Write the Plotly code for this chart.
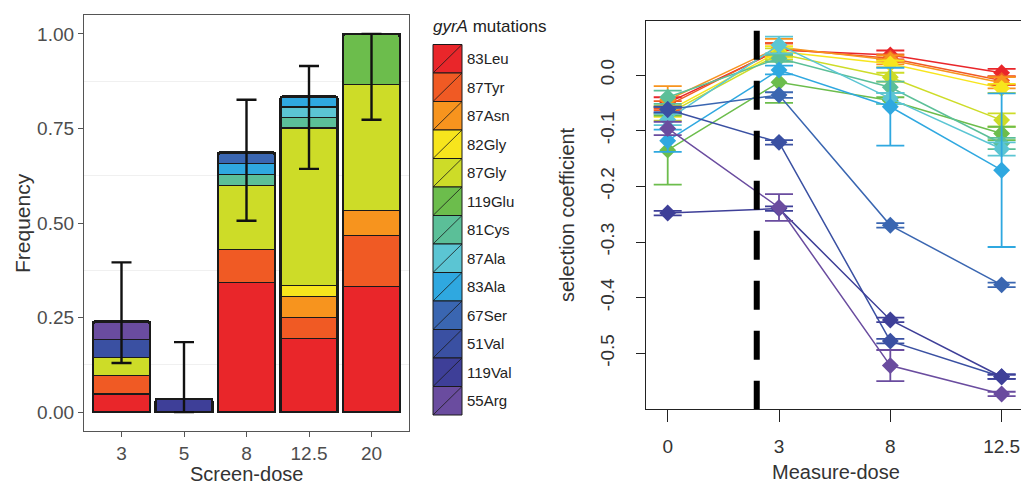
import plotly.graph_objects as go

# ---------------- data ----------------
mutations = ["83Leu", "87Tyr", "87Asn", "82Gly", "87Gly", "119Glu", "81Cys",
             "87Ala", "83Ala", "67Ser", "51Val", "119Val", "55Arg"]
colors = ["#e9262a", "#f05a24", "#f7941e", "#f7e51d", "#cddc28", "#6cbd4c", "#5bbf98",
          "#5bc5d3", "#2fa8e0", "#3a66b1", "#3a50a2", "#3e3f98", "#6a4c9f"]

# left panel: frequency of each mutation per screen dose
screen_doses = ["3", "5", "8", "12.5", "20"]
freq_83Leu = [0.048, 0.0, 0.343, 0.194, 0.333]
freq_87Tyr = [0.048, 0.0, 0.086, 0.056, 0.133]
freq_87Asn = [0.0, 0.0, 0.0, 0.056, 0.067]
freq_82Gly = [0.0, 0.0, 0.0, 0.028, 0.0]
freq_87Gly = [0.048, 0.0, 0.171, 0.417, 0.333]
freq_119Glu = [0.0, 0.0, 0.0, 0.0, 0.134]
freq_81Cys = [0.0, 0.0, 0.029, 0.028, 0.0]
freq_87Ala = [0.0, 0.0, 0.0, 0.028, 0.0]
freq_83Ala = [0.0, 0.0, 0.029, 0.028, 0.0]
freq_67Ser = [0.0, 0.0, 0.029, 0.0, 0.0]
freq_51Val = [0.048, 0.0, 0.0, 0.0, 0.0]
freq_119Val = [0.0, 0.035, 0.0, 0.0, 0.0]
freq_55Arg = [0.048, 0.0, 0.0, 0.0, 0.0]
freq_lists = [freq_83Leu, freq_87Tyr, freq_87Asn, freq_82Gly, freq_87Gly, freq_119Glu,
              freq_81Cys, freq_87Ala, freq_83Ala, freq_67Ser, freq_51Val, freq_119Val, freq_55Arg]
ci_lower = [0.130, 0.000, 0.506, 0.643, 0.773]
ci_upper = [0.396, 0.185, 0.826, 0.915, 1.000]
freq_ticks = [0.0, 0.25, 0.5, 0.75, 1.0]
freq_ticktext = ["0.00", "0.25", "0.50", "0.75", "1.00"]
freq_minor = [0.125, 0.375, 0.625, 0.875]

# right panel: selection coefficient per measure dose
measure_doses = ["0", "3", "8", "12.5"]
sel_83Leu = [-0.050, 0.045, 0.036, 0.004]
sel_87Tyr = [-0.055, 0.047, 0.030, -0.010]
sel_87Asn = [-0.045, 0.050, 0.027, -0.014]
sel_82Gly = [-0.065, 0.042, 0.020, -0.024]
sel_87Gly = [-0.070, 0.038, -0.004, -0.081]
sel_119Glu = [-0.135, -0.013, -0.046, -0.105]
sel_81Cys = [-0.040, 0.030, -0.022, -0.123]
sel_87Ala = [-0.080, 0.054, -0.042, -0.133]
sel_83Ala = [-0.118, 0.009, -0.057, -0.171]
sel_67Ser = [-0.062, -0.036, -0.270, -0.377]
sel_51Val = [-0.062, -0.121, -0.478, -0.542]
sel_119Val = [-0.248, -0.240, -0.440, -0.542]
sel_55Arg = [-0.096, -0.238, -0.522, -0.573]
sel_lists = [sel_83Leu, sel_87Tyr, sel_87Asn, sel_82Gly, sel_87Gly, sel_119Glu, sel_81Cys,
             sel_87Ala, sel_83Ala, sel_67Ser, sel_51Val, sel_119Val, sel_55Arg]
err_83Leu = [0.010, 0.012, 0.008, 0.007]
err_87Tyr = [0.008, 0.010, 0.007, 0.008]
err_87Asn = [0.025, 0.015, 0.008, 0.010]
err_82Gly = [0.010, 0.010, 0.006, 0.008]
err_87Gly = [0.012, 0.010, 0.008, 0.012]
err_119Glu = [0.062, 0.037, 0.006, 0.012]
err_81Cys = [0.012, 0.006, 0.010, 0.010]
err_87Ala = [0.010, 0.015, 0.010, 0.012]
err_83Ala = [0.020, 0.008, 0.070, 0.138]
err_67Ser = [0.005, 0.005, 0.004, 0.004]
err_51Val = [0.005, 0.004, 0.004, 0.004]
err_119Val = [0.004, 0.004, 0.004, 0.004]
err_55Arg = [0.012, 0.024, 0.028, 0.004]
err_lists = [err_83Leu, err_87Tyr, err_87Asn, err_82Gly, err_87Gly, err_119Glu, err_81Cys,
             err_87Ala, err_83Ala, err_67Ser, err_51Val, err_119Val, err_55Arg]
sel_ticks = [0.0, -0.1, -0.2, -0.3, -0.4, -0.5]
sel_ticktext = ["0.0", "-0.1", "-0.2", "-0.3", "-0.4", "-0.5"]
mic_position = 0.8   # dashed reference line, between measure-dose 0 and 3

# ---------------- figure ----------------
W, H = 1021, 484
FONT = "Liberation Sans, Arial, sans-serif"

fig = go.Figure()

for name, col, vals in zip(mutations, colors, freq_lists):
    fig.add_trace(go.Bar(
        x=screen_doses, y=[v if v > 0 else None for v in vals], name=name,
        marker=dict(color=col, line=dict(color="#1a1a1a", width=1.2)),
        width=0.91, xaxis="x", yaxis="y", showlegend=False, hoverinfo="skip"))

totals = [sum(c) for c in zip(*freq_lists)]
fig.add_trace(go.Bar(
    x=screen_doses, y=totals, width=0.91, xaxis="x3", yaxis="y",
    marker=dict(color="rgba(0,0,0,0)", line=dict(color="#1a1a1a", width=2.6), cornerradius=3),
    showlegend=False, hoverinfo="skip"))
fig.add_trace(go.Scatter(
    x=screen_doses, y=totals, mode="markers", marker=dict(size=1, opacity=0),
    error_y=dict(type="data", symmetric=False,
                 array=[u - t for u, t in zip(ci_upper, totals)],
                 arrayminus=[t - l for t, l in zip(totals, ci_lower)],
                 color="#111111", thickness=2.4, width=10),
    xaxis="x3", yaxis="y", showlegend=False, hoverinfo="skip"))

for name, col, vals, errs in zip(mutations, colors, sel_lists, err_lists):
    fig.add_trace(go.Scatter(
        x=measure_doses, y=vals, name=name, mode="lines+markers",
        line=dict(color=col, width=1.5),
        marker=dict(symbol="diamond", size=13, color=col),
        error_y=dict(type="data", array=errs, color=col, thickness=1.8, width=14),
        xaxis="x2", yaxis="y2", showlegend=False))

# panel geometry (pixels)
L_x0, L_x1, L_y0, L_y1 = 84, 409, 15, 431
R_x0, R_x1, R_y0, R_y1 = 646, 1021, 21, 409

axis_font = dict(family=FONT, size=19, color="#4d4d4d")
fig.update_layout(
    width=W, height=H, margin=dict(l=0, r=0, t=0, b=0),
    paper_bgcolor="white", plot_bgcolor="white", barmode="stack",
    showlegend=False,
    xaxis=dict(domain=[L_x0 / W, L_x1 / W], anchor="y", type="category",
               categoryorder="array", categoryarray=screen_doses,
               range=[-0.6, 4.6], showline=True, mirror=True, linecolor="#555555",
               linewidth=1.3, ticks="outside", ticklen=5, tickcolor="#555555",
               ticklabelstandoff=0,
               tickfont=axis_font, showgrid=False, zeroline=False, fixedrange=True),
    yaxis=dict(domain=[1 - L_y1 / H, 1 - L_y0 / H], anchor="x", range=[-0.05, 1.05],
               tickvals=freq_ticks, ticktext=freq_ticktext, showline=True, mirror=True,
               linecolor="#555555", linewidth=1.3, ticks="outside", ticklen=5,
               tickcolor="#555555", tickfont=axis_font, showgrid=False, zeroline=False,
               minor=dict(tickvals=freq_minor, showgrid=True, gridcolor="#f0f0f0",
                          gridwidth=1, ticks=""),
               fixedrange=True),
    xaxis3=dict(overlaying="x", anchor="y", type="category", categoryorder="array",
                categoryarray=screen_doses, range=[-0.6, 4.6], visible=False,
                fixedrange=True),
    xaxis2=dict(domain=[R_x0 / W, R_x1 / W], anchor="y2", type="category",
                categoryorder="array", categoryarray=measure_doses,
                range=[-0.195, 3.174], showline=True, mirror=True, linecolor="#222222",
                linewidth=1.3, ticks="outside", ticklen=12, tickcolor="#222222",
                tickwidth=1.3, ticklabelstandoff=8,
                tickfont=dict(family=FONT, size=19, color="#333333"),
                showgrid=False, zeroline=False, fixedrange=True),
    yaxis2=dict(domain=[1 - R_y1 / H, 1 - R_y0 / H], anchor="x2", range=[-0.6, 0.097],
                tickvals=sel_ticks, ticktext=sel_ticktext, tickangle=-90,
                showline=True, linecolor="#222222", linewidth=1.3, ticks="outside",
                ticklen=9, tickcolor="#222222", tickwidth=1.3, ticklabelstandoff=14,
                tickfont=dict(family=FONT, size=19, color="#333333"),
                showgrid=False, zeroline=False, fixedrange=True),
)

shapes = [dict(type="line", xref="x2", yref="y2", x0=mic_position, x1=mic_position,
               y0=0.0795, y1=-0.6, line=dict(color="black", width=6, dash="29px,21px"))]
annotations = []

title_font = dict(family=FONT, size=20, color="#333333")
annotations += [
    dict(text="Frequency", x=22 / W, y=1 - 223 / H, xref="paper", yref="paper",
         showarrow=False, textangle=-90, font=dict(family=FONT, size=21, color="#333333"),
         xanchor="center", yanchor="middle"),
    dict(text="Screen-dose", x=(L_x0 + L_x1) / 2 / W, y=1 - 474 / H, xref="paper",
         yref="paper", showarrow=False, font=title_font, xanchor="center", yanchor="middle"),
    dict(text="selection coefficient", x=567 / W, y=1 - 215 / H, xref="paper",
         yref="paper", showarrow=False, textangle=-90,
         font=dict(family=FONT, size=20, color="#333333"),
         xanchor="center", yanchor="middle"),
    dict(text="Measure-dose", x=836 / W, y=1 - 472 / H, xref="paper", yref="paper",
         showarrow=False, font=dict(family=FONT, size=20, color="#333333"),
         xanchor="center", yanchor="middle"),
]

# manual legend (contiguous keys with a diagonal stroke, as in the reference)
leg_x0, leg_x1, leg_top, leg_h = 433, 462, 44.5, 28.5
annotations.append(dict(text="<i>gyrA</i> mutations", x=431 / W, y=1 - 27 / H,
                        xref="paper", yref="paper", showarrow=False, xanchor="left",
                        yanchor="middle", font=dict(family=FONT, size=17, color="#222222")))
for i, (name, col) in enumerate(zip(mutations, colors)):
    yt = leg_top + i * leg_h
    yb = yt + leg_h
    shapes.append(dict(type="rect", xref="paper", yref="paper",
                       x0=leg_x0 / W, x1=leg_x1 / W, y0=1 - yb / H, y1=1 - yt / H,
                       fillcolor=col, line=dict(color="#1a1a1a", width=1)))
    shapes.append(dict(type="line", xref="paper", yref="paper",
                       x0=leg_x0 / W, x1=leg_x1 / W, y0=1 - yb / H, y1=1 - yt / H,
                       line=dict(color="#1a1a1a", width=0.8)))
    annotations.append(dict(text=name, x=465 / W, y=1 - (yt + leg_h / 2) / H,
                            xref="paper", yref="paper", showarrow=False, xanchor="left",
                            yanchor="middle",
                            font=dict(family=FONT, size=15, color="#222222")))

fig.update_layout(shapes=shapes, annotations=annotations)
fig.write_html("out.html")
